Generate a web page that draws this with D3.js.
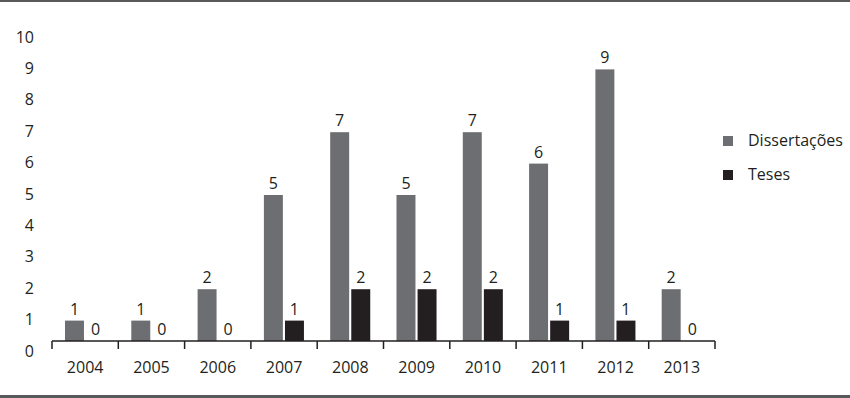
<!DOCTYPE html>
<html>
<head>
<meta charset="utf-8">
<script src="https://cdn.jsdelivr.net/npm/d3@7"></script>
<style>
  body { margin: 0; background: #fff; }
  svg text { font-family: "Open Sans", sans-serif; fill: #231f20; }
</style>
</head>
<body>
<div id="chart"></div>
<script>
// data
var years = ["2004", "2005", "2006", "2007", "2008", "2009", "2010", "2011", "2012", "2013"];
var dissertacoes = [1, 1, 2, 5, 7, 5, 7, 6, 9, 2];
var teses = [0, 0, 0, 1, 2, 2, 2, 1, 1, 0];
var seriesNames = ["Dissertações", "Teses"];
var seriesColors = ["#6d6e71", "#231f20"];
var yTicks = [0, 1, 2, 3, 4, 5, 6, 7, 8, 9, 10];

var W = 850, H = 398;
var axisY = 341;

var svg = d3.select("#chart")
  .append("svg")
  .attr("width", W)
  .attr("height", H);

// frame lines top and bottom
svg.append("rect").attr("x", 0).attr("y", 0).attr("width", W).attr("height", 2).attr("fill", "#58595b");
svg.append("rect").attr("x", 0).attr("y", 395).attr("width", W).attr("height", 3).attr("fill", "#58595b");

var x = d3.scaleBand()
  .domain(years)
  .range([52, 715])
  .padding(0);

var xSub = d3.scaleBand()
  .domain(seriesNames)
  .range([x.bandwidth() * 0.196, x.bandwidth() * 0.8])
  .paddingInner(0.1);

var y = d3.scaleLinear()
  .domain([0, 10])
  .range([352, 38]);

// y labels, no axis line
var yAxis = svg.append("g")
  .attr("transform", "translate(37,-1)")
  .call(d3.axisLeft(y).tickValues(yTicks).tickSize(0).tickPadding(3).tickFormat(d3.format("d")));
yAxis.select(".domain").remove();
yAxis.selectAll("text")
  .style("font-family", "'Open Sans', sans-serif")
  .style("font-size", "16px")
  .attr("fill", "#231f20");

var rows = years.map(function(yr, i) {
  return { year: yr, values: [dissertacoes[i], teses[i]] };
});

var groups = svg.selectAll(".yr")
  .data(rows)
  .enter()
  .append("g")
  .attr("transform", function(d) { return "translate(" + x(d.year) + ",0)"; });

groups.selectAll("rect")
  .data(function(d) { return d.values.map(function(v, j) { return { v: v, s: seriesNames[j], c: seriesColors[j] }; }); })
  .enter()
  .append("rect")
  .attr("x", function(d) { return xSub(d.s); })
  .attr("y", function(d) { return Math.min(y(d.v), axisY); })
  .attr("width", xSub.bandwidth())
  .attr("height", function(d) { return Math.max(0, axisY - y(d.v)); })
  .attr("fill", function(d) { return d.c; });

groups.selectAll("text")
  .data(function(d) { return d.values.map(function(v, j) { return { v: v, s: seriesNames[j] }; }); })
  .enter()
  .append("text")
  .attr("x", function(d) { return xSub(d.s) + xSub.bandwidth() / 2; })
  .attr("y", function(d) { return Math.min(y(d.v), axisY) - 6; })
  .attr("text-anchor", "middle")
  .style("font-size", "16px")
  .text(function(d) { return d.v; });

// x axis line with ticks at the category borders
var xr = x.range();
svg.append("line")
  .attr("x1", xr[0]).attr("x2", xr[1])
  .attr("y1", axisY).attr("y2", axisY)
  .attr("stroke", "#231f20").attr("stroke-width", 1.5);

var borders = years.map(function(d) { return x(d); }).concat([xr[1]]);
svg.selectAll(".xtick")
  .data(borders)
  .enter()
  .append("line")
  .attr("x1", function(d) { return d; }).attr("x2", function(d) { return d; })
  .attr("y1", axisY).attr("y2", axisY + 8)
  .attr("stroke", "#231f20").attr("stroke-width", 1.5);

svg.selectAll(".xlab")
  .data(years)
  .enter()
  .append("text")
  .attr("x", function(d) { return x(d) + x.bandwidth() / 2; })
  .attr("y", 373)
  .attr("text-anchor", "middle")
  .style("font-size", "16px")
  .text(function(d) { return d; });

// legend
var legend = svg.selectAll(".leg")
  .data(seriesNames)
  .enter()
  .append("g")
  .attr("transform", function(d, i) { return "translate(723," + (136 + i * 34) + ")"; });

legend.append("rect")
  .attr("width", 10).attr("height", 10)
  .attr("fill", function(d, i) { return seriesColors[i]; });

legend.append("text")
  .attr("x", 25)
  .attr("y", 10)
  .style("font-size", "16px")
  .text(function(d) { return d; });
</script>
</body>
</html>
